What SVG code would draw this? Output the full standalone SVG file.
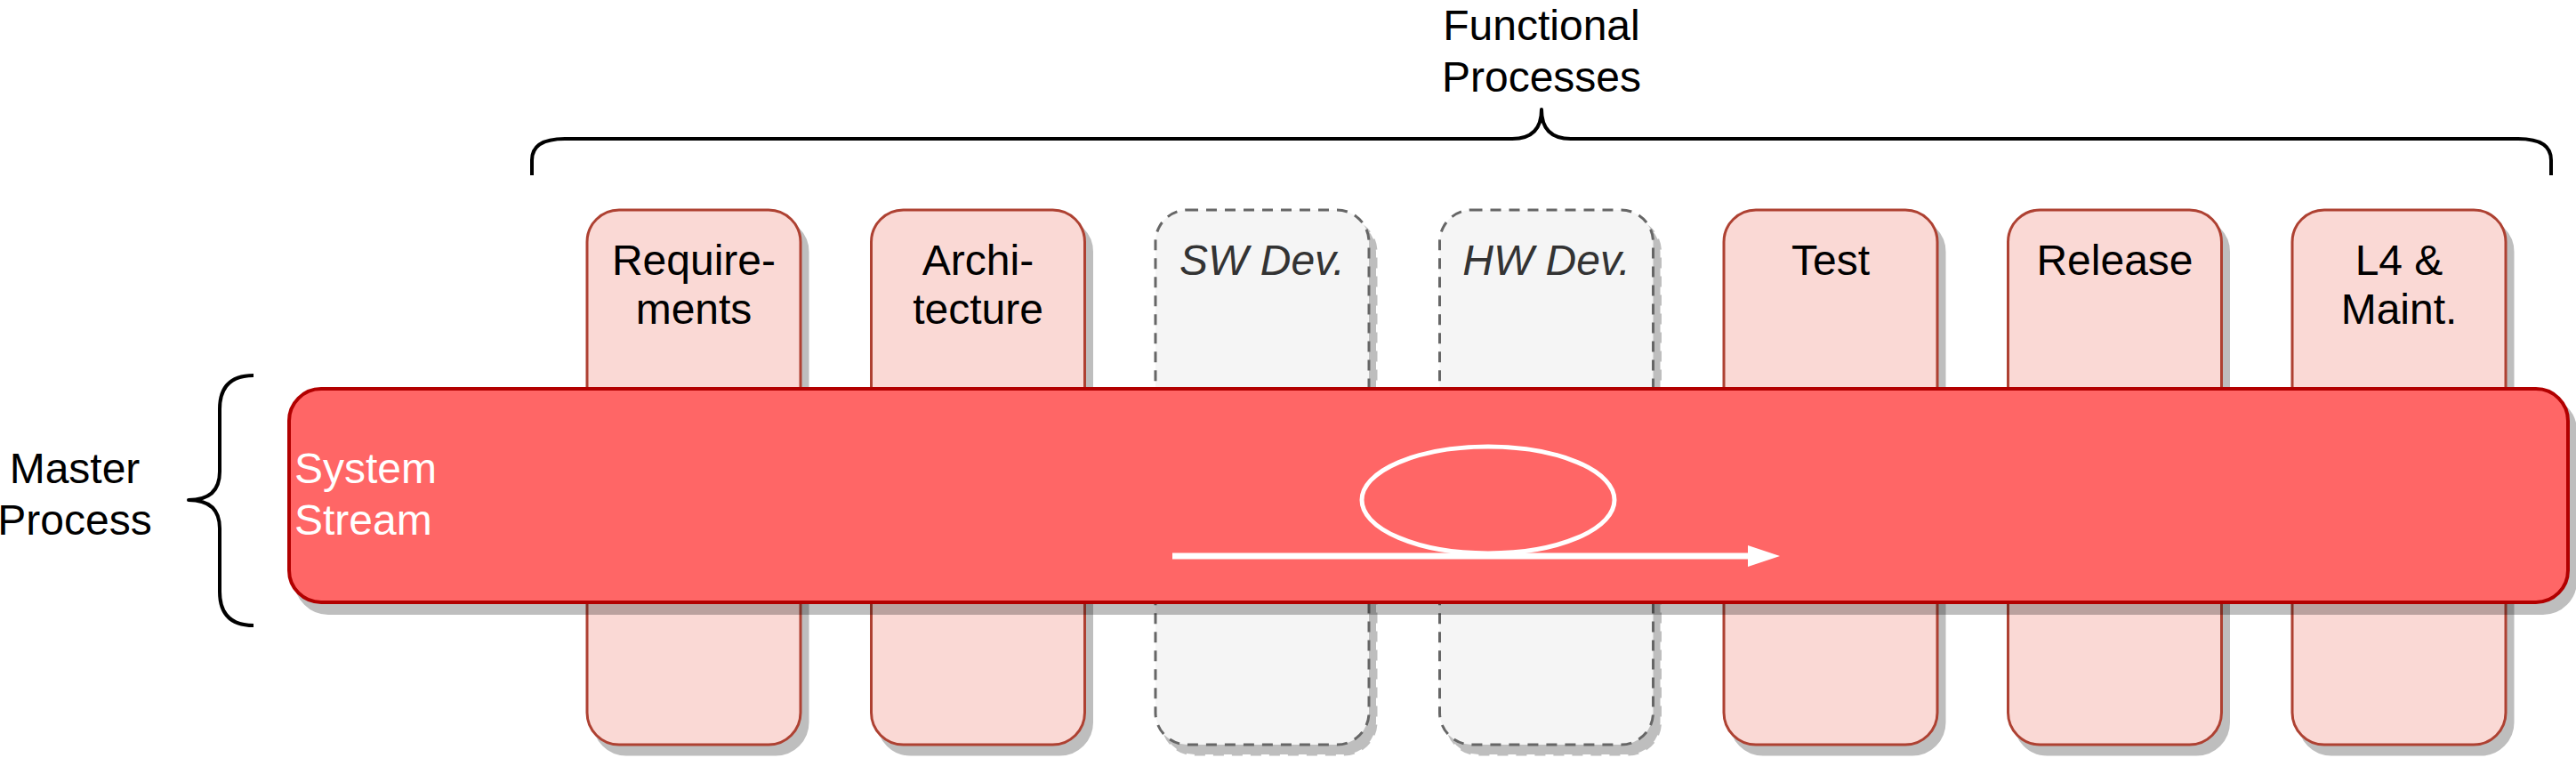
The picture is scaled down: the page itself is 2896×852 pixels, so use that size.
<svg xmlns="http://www.w3.org/2000/svg" width="2896" height="852" viewBox="0 0 2896 852">
<style>
  text { font-family: "Liberation Sans", Arial, sans-serif; font-size: 48px; }
  .lbl { text-anchor: middle; fill: #000000; }
  .ital { text-anchor: middle; fill: #333333; font-style: italic; }
  .box { fill: #FAD9D5; stroke: #AE4132; stroke-width: 3; }
  .dbox { fill: #F5F5F5; stroke: #666666; stroke-width: 3; stroke-dasharray: 12 9; }
  .shadow { opacity: 0.25; }
  .shadow rect { fill: #000; stroke: #000; stroke-width: 3; }
  .brace { fill: none; stroke: #000; stroke-width: 4; stroke-linejoin: round; }
</style>
<rect width="2896" height="852" fill="#FFFFFF"/>

<g id="functional-brace">
  <path class="brace" d="M 598 197 L 598 180 Q 598 156 635 156 L 1700 156 Q 1733 156 1733 123 Q 1733 156 1766 156 L 2831 156 Q 2868 156 2868 180 L 2868 197"/>
  <text class="lbl" x="1733" y="45">Functional</text>
  <text class="lbl" x="1733" y="103">Processes</text>
</g>

<g id="master-brace">
  <path class="brace" d="M 285 422 Q 247 422 247 460 L 247 530 Q 247 562 212 562 Q 247 562 247 594 L 247 665 Q 247 703 285 703"/>
  <text class="lbl" x="84" y="543">Master</text>
  <text class="lbl" x="84" y="601">Process</text>
</g>

<g id="box-shadows" class="shadow">
  <rect x="668" y="247" width="240" height="601" rx="36"/>
  <rect x="987.5" y="247" width="240" height="601" rx="36"/>
  <rect x="1307" y="247" width="240" height="601" rx="36" stroke-dasharray="12 9"/>
  <rect x="1626.5" y="247" width="240" height="601" rx="36" stroke-dasharray="12 9"/>
  <rect x="1946" y="247" width="240" height="601" rx="36"/>
  <rect x="2265.5" y="247" width="240" height="601" rx="36"/>
  <rect x="2585" y="247" width="240" height="601" rx="36"/>
</g>

<g id="requirements">
  <rect class="box" x="660" y="236" width="240" height="601" rx="36"/>
  <text class="lbl" x="780" y="309">Require-</text>
  <text class="lbl" x="780" y="364">ments</text>
</g>
<g id="architecture">
  <rect class="box" x="979.5" y="236" width="240" height="601" rx="36"/>
  <text class="lbl" x="1099.5" y="309">Archi-</text>
  <text class="lbl" x="1099.5" y="364">tecture</text>
</g>
<g id="sw-dev">
  <rect class="dbox" x="1299" y="236" width="240" height="601" rx="36"/>
  <text class="ital" x="1419" y="309">SW Dev.</text>
</g>
<g id="hw-dev">
  <rect class="dbox" x="1618.5" y="236" width="240" height="601" rx="36"/>
  <text class="ital" x="1738.5" y="309">HW Dev.</text>
</g>
<g id="test">
  <rect class="box" x="1938" y="236" width="240" height="601" rx="36"/>
  <text class="lbl" x="2058" y="309">Test</text>
</g>
<g id="release">
  <rect class="box" x="2257.5" y="236" width="240" height="601" rx="36"/>
  <text class="lbl" x="2377.5" y="309">Release</text>
</g>
<g id="l4-maint">
  <rect class="box" x="2577" y="236" width="240" height="601" rx="36"/>
  <text class="lbl" x="2697" y="309">L4 &amp;</text>
  <text class="lbl" x="2697" y="364">Maint.</text>
</g>

<g id="system-stream">
  <rect x="333" y="448" width="2562" height="241" rx="36" fill="#000" stroke="#000" stroke-width="4" opacity="0.25"/>
  <rect x="325" y="437" width="2562" height="240" rx="36" fill="#FF6666" stroke="#B20000" stroke-width="4"/>
  <text x="331" y="543" fill="#FFFFFF">System</text>
  <text x="331" y="601" fill="#FFFFFF">Stream</text>
</g>

<g id="connectors">
  <ellipse cx="1673" cy="562" rx="142" ry="60" fill="none" stroke="#FFFFFF" stroke-width="5"/>
  <line x1="1318" y1="625" x2="1966" y2="625" stroke="#FFFFFF" stroke-width="7"/>
  <polygon points="1965,613 2001,625 1965,637" fill="#FFFFFF"/>
</g>
</svg>
